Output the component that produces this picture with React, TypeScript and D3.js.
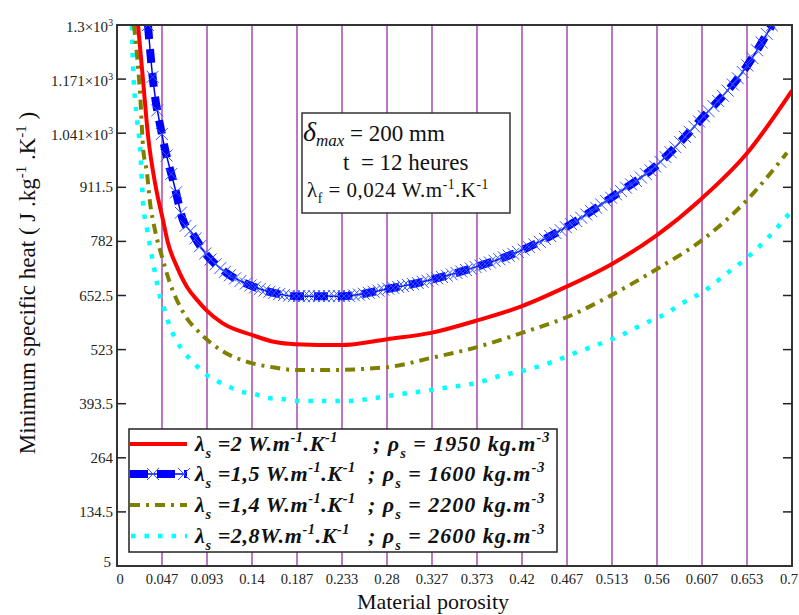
import React, { useEffect, useRef } from 'react';
import * as d3 from 'd3';

// porosity, minimum specific heat (J/kg/K)
const redCurve: [number, number][] = [
  [0.0218, 1300], [0.027, 1168], [0.0321, 1037], [0.0404, 910], [0.0477, 833],
  [0.0529, 778], [0.0622, 721], [0.0726, 673], [0.083, 642], [0.0923, 618],
  [0.1089, 587], [0.14, 558], [0.1639, 541], [0.1846, 536],
  [0.2323, 534], [0.28, 548], [0.3256, 563], [0.3723, 592], [0.42, 627],
  [0.4656, 673], [0.5133, 728], [0.56, 797], [0.6056, 883], [0.6533, 993], [0.7, 1143]
];
const blueCurve: [number, number][] = [
  [0.0321, 1300], [0.0373, 1168], [0.0467, 1037], [0.0601, 910], [0.0684, 833],
  [0.0778, 802], [0.0913, 754], [0.112, 709], [0.14, 675], [0.1639, 658],
  [0.1846, 651], [0.2333, 651], [0.28, 668], [0.3256, 690], [0.3723, 721],
  [0.42, 761], [0.4656, 816], [0.5133, 888], [0.56, 965], [0.6067, 1077],
  [0.6533, 1202], [0.6793, 1300]
];
const oliveCurve: [number, number][] = [
  [0.0176, 1300], [0.0218, 1200], [0.0239, 1137], [0.027, 1008], [0.0311, 946],
  [0.0342, 876], [0.0394, 809], [0.0467, 745], [0.055, 682], [0.0684, 613],
  [0.0881, 558], [0.1089, 520], [0.1359, 493], [0.1607, 481], [0.1867, 474],
  [0.2157, 474], [0.28, 481], [0.3256, 503], [0.3733, 529], [0.42, 563],
  [0.4667, 601], [0.5133, 654], [0.56, 716], [0.6067, 785], [0.6533, 881], [0.6948, 994]
];
const cyanCurve: [number, number][] = [
  [0.0155, 1298], [0.0166, 1204], [0.0207, 1075], [0.0239, 1008], [0.027, 876],
  [0.0311, 812], [0.0363, 745], [0.0415, 682], [0.0446, 649], [0.0498, 615],
  [0.0539, 584], [0.0601, 551], [0.0695, 517], [0.0809, 488], [0.0902, 467],
  [0.1037, 448], [0.1172, 433], [0.1296, 422], [0.1421, 417], [0.1566, 407],
  [0.1711, 405], [0.1836, 400], [0.2116, 400], [0.2396, 400], [0.2676, 407],
  [0.2956, 417], [0.3194, 424], [0.3443, 433], [0.3723, 443], [0.3972, 460],
  [0.4241, 474], [0.4511, 493], [0.475, 515], [0.4999, 536], [0.5237, 558],
  [0.5455, 584], [0.5683, 608], [0.587, 635], [0.6108, 666], [0.6315, 704],
  [0.6544, 745], [0.6761, 793], [0.6969, 848]
];

const xTickValues = [0, 0.04667, 0.09333, 0.14, 0.18667, 0.23333, 0.28, 0.32667, 0.37333,
  0.42, 0.46667, 0.51333, 0.56, 0.60667, 0.65333, 0.7];
const xTickLabels = ['0', '0.047', '0.093', '0.14', '0.187', '0.233', '0.28', '0.327', '0.373',
  '0.42', '0.467', '0.513', '0.56', '0.607', '0.653', '0.7'];
const yTickValues = [5, 134.5, 264, 393.5, 523, 652.5, 782, 911.5, 1041, 1170.5, 1300];
const yTickLabels = ['5', '134.5', '264', '393.5', '523', '652.5', '782', '911.5', '1.041×10', '1.171×10', '1.3×10'];

const legendRows = [
  { lam: '=2 W.m', rho: '1950', color: '#ff0000' },
  { lam: '=1,5 W.m', rho: '1600', color: '#0000ff' },
  { lam: '=1,4 W.m', rho: '2200', color: '#808000' },
  { lam: '=2,8W.m', rho: '2600', color: '#00ffff' }
];

const FONT = '"Liberation Serif", "Times New Roman", serif';
const PURPLE = '#962fa3';

type Seg = [string, 'n' | 'sub' | 'sup'];

function rich(sel: any, segs: Seg[], size: number) {
  let shift = 0;
  segs.forEach(([t, m]) => {
    const target = m === 'sub' ? size * 0.3 : m === 'sup' ? -size * 0.4 : 0;
    sel.append('tspan')
      .attr('dy', target - shift)
      .attr('font-size', m === 'n' ? size : size * 0.65)
      .text(t);
    shift = target;
  });
}

export default function App() {
  const ref = useRef<SVGSVGElement>(null);

  useEffect(() => {
    const svg = d3.select(ref.current);
    svg.selectAll('*').remove();

    const left = 117, right = 792, top = 25, bottom = 566;
    const x = d3.scaleLinear().domain([0, 0.7]).range([left, right]);
    const y = d3.scaleLinear().domain([5, 1300]).range([bottom, top]);

    svg.append('rect').attr('width', 799).attr('height', 615).attr('fill', '#fff');

    svg.append('defs').append('clipPath').attr('id', 'plotclip')
      .append('rect').attr('x', left).attr('y', top).attr('width', right - left).attr('height', bottom - top);

    // vertical purple grid
    svg.append('g').selectAll('line')
      .data(xTickValues.slice(1, -1))
      .enter().append('line')
      .attr('x1', d => x(d)).attr('x2', d => x(d))
      .attr('y1', top).attr('y2', bottom)
      .attr('stroke', PURPLE).attr('stroke-width', 1.3);

    const line = d3.line<[number, number]>()
      .x(d => x(d[0])).y(d => y(d[1]))
      .curve(d3.curveMonotoneX);

    const plot = svg.append('g').attr('clip-path', 'url(#plotclip)');

    // cyan dotted
    plot.append('path').attr('d', line(cyanCurve)!)
      .attr('fill', 'none').attr('stroke', '#00ffff')
      .attr('stroke-width', 4.5).attr('stroke-dasharray', '4.5 9');

    // olive dash-dot
    plot.append('path').attr('d', line(oliveCurve)!)
      .attr('fill', 'none').attr('stroke', '#808000')
      .attr('stroke-width', 4).attr('stroke-dasharray', '10 6 3 6');

    // red solid
    plot.append('path').attr('d', line(redCurve)!)
      .attr('fill', 'none').attr('stroke', '#ff0000').attr('stroke-width', 4);

    // blue: thin line, thick dashes, x markers
    const bluePath = plot.append('path').attr('d', line(blueCurve)!)
      .attr('fill', 'none').attr('stroke', '#0000ff').attr('stroke-width', 1.5);
    plot.append('path').attr('d', line(blueCurve)!)
      .attr('fill', 'none').attr('stroke', '#0000ff')
      .attr('stroke-width', 8).attr('stroke-dasharray', '14 10');

    const node = bluePath.node() as SVGPathElement;
    const total = node.getTotalLength();
    const samples: DOMPoint[] = [];
    for (let l = 0; l <= total; l += 1) samples.push(node.getPointAtLength(l));
    const marks: DOMPoint[] = [];
    let nextX = samples[0].x;
    samples.forEach(p => {
      if (p.x >= nextX) { marks.push(p); nextX = p.x + 4.6; }
    });
    const mk = 6;
    plot.append('g').selectAll('path').data(marks).enter().append('path')
      .attr('d', p => `M${p.x - mk},${p.y - mk}L${p.x + mk},${p.y + mk}M${p.x - mk},${p.y + mk}L${p.x + mk},${p.y - mk}`)
      .attr('stroke', '#3355ff').attr('stroke-width', 1).attr('fill', 'none');

    // frame
    svg.append('rect').attr('x', left).attr('y', top).attr('width', right - left).attr('height', bottom - top)
      .attr('fill', 'none').attr('stroke', '#333').attr('stroke-width', 2);

    // y ticks (inside, both sides)
    const yt = svg.append('g');
    yTickValues.forEach((v, i) => {
      if (i === 0 || i === yTickValues.length - 1) return;
      yt.append('line').attr('x1', left).attr('x2', left + 9).attr('y1', y(v)).attr('y2', y(v))
        .attr('stroke', '#222').attr('stroke-width', 1.5);
      yt.append('line').attr('x1', right - 9).attr('x2', right).attr('y1', y(v)).attr('y2', y(v))
        .attr('stroke', '#222').attr('stroke-width', 1.5);
    });
    yTickValues.forEach((v, i) => {
      const label = yTickLabels[i];
      const t = yt.append('text').attr('x', left - 4).attr('y', y(v) + 5)
        .attr('text-anchor', 'end').attr('font-family', FONT).attr('font-size', 15).attr('fill', '#222');
      if (i === 0) t.attr('x', left - 6).attr('y', y(v) + 1);
      if (label.endsWith('×10')) {
        t.attr('y', y(v) + 7);
        rich(t, [[label, 'n'], ['3', 'sup']], 15);
      } else {
        t.text(label);
      }
    });

    // x tick labels
    const last = xTickValues.length - 1;
    svg.append('g').selectAll('text')
      .data(xTickValues)
      .enter().append('text')
      .attr('x', (d, i) => i === 0 ? x(d) + 3 : i === last ? 798 : x(d))
      .attr('y', bottom + 18)
      .attr('text-anchor', (d, i) => i === last ? 'end' : 'middle')
      .attr('font-family', FONT).attr('font-size', 14.5).attr('fill', '#222')
      .text((d, i) => xTickLabels[i]);

    // axis titles
    svg.append('text').attr('x', 433).attr('y', 609).attr('text-anchor', 'middle')
      .attr('font-family', FONT).attr('font-size', 22).attr('fill', '#111')
      .text('Material porosity');
    const yTitle = svg.append('text').attr('transform', 'translate(35,283) rotate(-90)')
      .attr('text-anchor', 'middle').attr('font-family', FONT).attr('fill', '#111');
    rich(yTitle, [['Minimum specific heat ( J .kg', 'n'], ['-1', 'sup'], [' .K', 'n'], ['-1', 'sup'], [' )', 'n']], 23);

    // annotation box
    const ann = svg.append('g');
    ann.append('rect').attr('x', 302).attr('y', 113).attr('width', 208).attr('height', 100)
      .attr('fill', '#fff').attr('stroke', '#333').attr('stroke-width', 1.5);
    const a1 = ann.append('text').attr('x', 303).attr('y', 141).attr('font-family', FONT).attr('fill', '#111');
    a1.append('tspan').attr('font-size', 28).attr('font-style', 'italic').text('δ');
    a1.append('tspan').attr('font-size', 17).attr('font-style', 'italic').attr('dy', 5).text('max');
    a1.append('tspan').attr('font-size', 23).attr('dy', -5).text(' = 200 mm');
    ann.append('text').attr('x', 343).attr('y', 170).attr('font-family', FONT).attr('font-size', 23)
      .attr('fill', '#111').style('white-space', 'pre').text('t  = 12 heures');
    const a3 = ann.append('text').attr('x', 307).attr('y', 197).attr('font-family', FONT).attr('fill', '#111')
      .attr('letter-spacing', 0.5);
    rich(a3, [['λ', 'n'], ['f', 'sub'], [' = 0,024 W.m', 'n'], ['-1', 'sup'], ['.K', 'n'], ['-1', 'sup']], 21);

    // legend
    const lg = svg.append('g');
    lg.append('rect').attr('x', 129).attr('y', 429).attr('width', 428).attr('height', 123)
      .attr('fill', '#fff').attr('stroke', '#222').attr('stroke-width', 1.5);
    const rowY = [444, 474, 505, 536];
    const FS = 22;
    legendRows.forEach((r, i) => {
      const ly = rowY[i];
      if (i === 0) {
        lg.append('line').attr('x1', 130).attr('x2', 187).attr('y1', ly).attr('y2', ly)
          .attr('stroke', r.color).attr('stroke-width', 4);
      } else if (i === 1) {
        lg.append('line').attr('x1', 130).attr('x2', 187).attr('y1', ly).attr('y2', ly)
          .attr('stroke', r.color).attr('stroke-width', 1.5);
        lg.append('line').attr('x1', 130).attr('x2', 187).attr('y1', ly).attr('y2', ly)
          .attr('stroke', r.color).attr('stroke-width', 8).attr('stroke-dasharray', '18 9');
        [153, 184].forEach(cx => {
          lg.append('path')
            .attr('d', `M${cx - 6},${ly - 6}L${cx + 6},${ly + 6}M${cx - 6},${ly + 6}L${cx + 6},${ly - 6}`)
            .attr('stroke', '#3355ff').attr('stroke-width', 1);
        });
      } else if (i === 2) {
        lg.append('line').attr('x1', 130).attr('x2', 187).attr('y1', ly).attr('y2', ly)
          .attr('stroke', r.color).attr('stroke-width', 4).attr('stroke-dasharray', '10 6 3 6');
      } else {
        lg.append('line').attr('x1', 131).attr('x2', 187).attr('y1', ly).attr('y2', ly)
          .attr('stroke', r.color).attr('stroke-width', 4.5).attr('stroke-dasharray', '4.5 9');
      }
      const t = lg.append('text').attr('x', 195).attr('y', ly + 7)
        .attr('font-family', FONT).attr('font-weight', 'bold').attr('font-style', 'italic').attr('fill', '#111')
        .attr('letter-spacing', 0.6);
      rich(t, [['λ', 'n'], ['s', 'sub'], [' ' + r.lam, 'n'], ['-1', 'sup'], ['.K', 'n'], ['-1', 'sup']], FS);
      const t2 = lg.append('text').attr('x', i === 0 ? 373 : 368).attr('y', ly + 7)
        .attr('font-family', FONT).attr('font-weight', 'bold').attr('font-style', 'italic').attr('fill', '#111')
        .attr('letter-spacing', 1).style('white-space', 'pre');
      rich(t2, [['; ρ', 'n'], ['s', 'sub'], [' = ' + r.rho + ' kg.m', 'n'], ['-3', 'sup']], FS);
    });
  }, []);

  return (
    <svg ref={ref} width={799} height={615}
      style={{ position: 'absolute', left: 0, top: 0, display: 'block' }} />
  );
}
